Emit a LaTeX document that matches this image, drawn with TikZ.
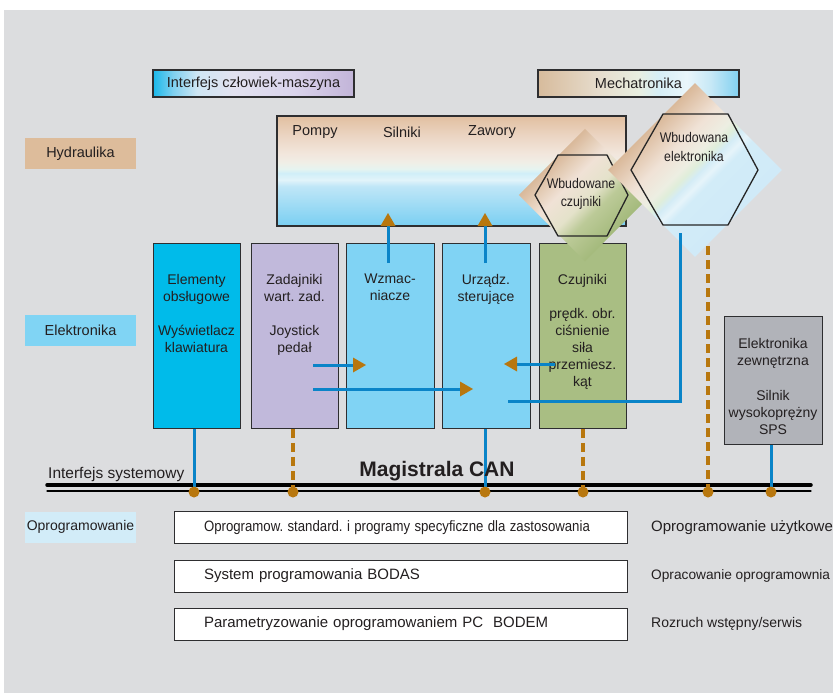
\documentclass[tikz,border=0pt]{standalone}
\usepackage{fontspec}
\setmainfont{Liberation Sans}
\usepackage{graphicx}
\usetikzlibrary{arrows.meta}
\frenchspacing
\definecolor{bg}{HTML}{DCDDDF}
\definecolor{txt}{HTML}{231F20}
\definecolor{edge}{HTML}{2E2E30}
\definecolor{brn}{HTML}{B8770E}
\definecolor{lblue}{HTML}{0A84C8}
\definecolor{ccyan}{HTML}{00BBEA}
\definecolor{clav}{HTML}{C1B9DB}
\definecolor{clb}{HTML}{80D3F4}
\definecolor{cgreen}{HTML}{A9BE83}
\definecolor{cgray}{HTML}{B1B3B9}
\definecolor{htan}{HTML}{DDBC9B}
\definecolor{elb}{HTML}{80D4F4}
\definecolor{opb}{HTML}{D2ECF8}
% hydraulic box
\definecolor{hA}{HTML}{E1BFA0}\definecolor{hB}{HTML}{EBD5C3}\definecolor{hC}{HTML}{F2E6DC}
\definecolor{hD}{HTML}{F0EEE6}\definecolor{hE}{HTML}{E6F4F0}\definecolor{hF}{HTML}{D0EEF8}
\definecolor{hG}{HTML}{E2F4FA}\definecolor{hH}{HTML}{BFE6F7}\definecolor{hI}{HTML}{7ACFF2}
\pgfdeclareverticalshading{hydsh}{100bp}{color(0bp)=(hI); color(25bp)=(hI); color(43bp)=(hH); color(46bp)=(hG); color(49bp)=(hF); color(51bp)=(hE); color(54bp)=(hD); color(58bp)=(hC); color(66bp)=(hB); color(75bp)=(hA); color(100bp)=(hA)}
% interface box
\definecolor{iA}{HTML}{1AB8EA}\definecolor{iB}{HTML}{7FD0F0}\definecolor{iC}{HTML}{CFE6F4}
\definecolor{iD}{HTML}{E2E2F0}\definecolor{iE}{HTML}{DAD4EC}\definecolor{iF}{HTML}{C2B4D8}
\pgfdeclarehorizontalshading{intsh}{100bp}{color(0bp)=(iA); color(25bp)=(iA); color(30bp)=(iB); color(36bp)=(iC); color(45bp)=(iD); color(60bp)=(iE); color(75bp)=(iF); color(100bp)=(iF)}
% mechatronika box
\definecolor{mA}{HTML}{D7BB9C}\definecolor{mB}{HTML}{E6DCCC}\definecolor{mC}{HTML}{E8EEE0}
\definecolor{mD}{HTML}{D6EEF6}\definecolor{mE}{HTML}{EAF6FB}\definecolor{mF}{HTML}{C6E8F6}\definecolor{mG}{HTML}{80D0F0}
\pgfdeclarehorizontalshading{mechsh}{100bp}{color(0bp)=(mA); color(25bp)=(mA); color(40bp)=(mB); color(50bp)=(mC); color(55bp)=(mD); color(62bp)=(mE); color(68bp)=(mF); color(75bp)=(mG); color(100bp)=(mG)}
% small diamond
\definecolor{sA}{HTML}{A4BA7C}\definecolor{sB}{HTML}{BCCA98}\definecolor{sC}{HTML}{E4E2CA}
\definecolor{sD}{HTML}{F0E2D6}\definecolor{sE}{HTML}{D9B99A}
\pgfdeclareverticalshading{sdiash}{100bp}{color(0bp)=(sA); color(25bp)=(sA); color(40bp)=(sB); color(48bp)=(sC); color(60bp)=(sD); color(75bp)=(sE); color(100bp)=(sE)}
% large diamond
\definecolor{lA}{HTML}{D0EAF8}\definecolor{lB}{HTML}{D2ECF8}\definecolor{lC}{HTML}{E6F4FA}
\definecolor{lD}{HTML}{D4ECF6}\definecolor{lE}{HTML}{E0EEDA}\definecolor{lF}{HTML}{EDEEE2}
\definecolor{lG}{HTML}{F0E2D6}\definecolor{lH}{HTML}{DAB99A}
\pgfdeclareverticalshading{ldiash}{100bp}{color(0bp)=(lA); color(25bp)=(lA); color(42bp)=(lB); color(45bp)=(lC); color(48bp)=(lD); color(51bp)=(lE); color(54bp)=(lF); color(62bp)=(lG); color(75bp)=(lH); color(100bp)=(lH)}

\tikzset{
  lab/.style={minimum width=111pt, minimum height=31pt, inner sep=0pt, text=txt, font=\fontsize{14.5}{17}\selectfont},
  topbox/.style={draw=edge, line width=1.1pt, minimum width=201pt, minimum height=27pt, inner sep=0pt, text=txt, font=\fontsize{14.5}{17}\selectfont},
  colbox/.style={draw=edge, line width=0.9pt, anchor=north west, minimum height=185pt, inner sep=0pt},
  coltext/.style={align=center, anchor=north, inner sep=0pt, text=txt, font=\fontsize{14}{17}\selectfont},
  hydtext/.style={inner sep=0pt, text=txt, font=\fontsize{14.5}{17}\selectfont},
  hextext/.style={align=center, inner sep=0pt, text=txt, font=\fontsize{14}{19}\selectfont},
  hexline/.style={draw=black!85, line width=1.3pt, line join=miter},
  bluel/.style={draw=lblue, line width=3pt},
  bluetip/.style={draw=lblue, line width=3pt, -{Triangle[length=13pt, width=15pt, color=brn, fill=brn, line width=0pt]}},
  brndash/.style={draw=brn, line width=3.5pt, dash pattern=on 9pt off 5pt},
  swbox/.style={draw=edge, fill=white, line width=0.9pt, minimum height=32pt, text width=393pt, inner xsep=30pt, inner ysep=0pt, align=left, text=txt, font=\fontsize{15}{18}\selectfont},
  swright/.style={anchor=west, inner sep=0pt, text=txt, font=\fontsize{14}{17}\selectfont},
}

\begin{document}
\begin{tikzpicture}[x=1pt, y=-1pt]
\useasboundingbox (0,0) rectangle (833,693);
\fill[white] (0,0) rectangle (833,693);
\fill[bg] (4,10) rectangle (833,693);

% left labels
\node[lab, fill=htan] (hydl) at (80.5,153.5) {Hydraulika};
\node[lab, fill=elb] (elel) at (80.5,330.5) {Elektronika};
\node[lab, fill=opb] (opl) at (80.5,527) {\fontsize{14}{17}\selectfont Oprogramowanie};

% top boxes
\node[topbox, shading=intsh] (hmi) at (253.5,83.5) {Interfejs człowiek-maszyna};
\node[topbox, shading=mechsh] (mech) at (638.5,83.5) {Mechatronika};

% hydraulic box
\node[draw=edge, line width=1.1pt, shading=hydsh, minimum width=349pt, minimum height=110pt, inner sep=0pt] (hyd) at (451.5,171) {};
\node[hydtext] (pompy) at (315,132) {Pompy};
\node[hydtext] (silniki) at (402,132) {Silniki};
\node[hydtext] (zawory) at (492,132) {Zawory};

% columns
\node[colbox, fill=ccyan, minimum width=87pt] (elem) at (153,243) {};
\node[colbox, fill=clav, minimum width=87pt] (zad) at (251,243) {};
\node[colbox, fill=clb, minimum width=88pt] (wzm) at (346,243) {};
\node[colbox, fill=clb, minimum width=88pt] (urz) at (442,243) {};
\node[colbox, fill=cgreen, minimum width=87pt] (czu) at (539,243) {};
\node[colbox, fill=cgray, minimum width=98pt, minimum height=128pt] (ext) at (724,316) {};

\node[coltext] (elemT) at (196.5,274) {Elementy\\obsługowe\\[17pt]Wyświetlacz\\klawiatura};
\node[coltext] (zadT) at (294.5,274) {Zadajniki\\wart. zad.\\[17pt]Joystick\\pedał};
\node[coltext] (wzmT) at (390,274) {Wzmac-\\niacze};
\node[coltext] (urzT) at (486,274) {Urządz.\\sterujące};
\node[coltext] (czuT) at (582.5,274) {Czujniki\\[17pt]prędk. obr.\\ciśnienie\\siła\\przemiesz.\\kąt};
\node[coltext] (extT) at (773,338) {Elektronika\\zewnętrzna\\[18pt]Silnik\\wysokoprężny\\SPS};

% up arrows into hydraulics
\coordinate (u1s) at (388,263); \coordinate (u1e) at (388,213);
\coordinate (u2s) at (485,263); \coordinate (u2e) at (485,213);
\draw[bluetip] (u1s) -- (u1e);
\draw[bluetip] (u2s) -- (u2e);

% small diamond + hexagon
\begin{scope}[transform canvas={rotate around={45:(585,195)}}]
  \shade[shading=sdiash] (538.3,148.3) rectangle (631.7,241.7);
\end{scope}
\draw[hexline] (558,155) -- (607,155) -- (628,195) -- (607,236) -- (558,236) -- (535,195) -- cycle;
\node[hextext] (sdiaT) at (581,194) {\scalebox{0.88}[1]{Wbudowane}\\[-1pt]\scalebox{0.88}[1]{czujniki}};

% large diamond + hexagon
\begin{scope}[transform canvas={rotate around={45:(695,170)}}]
  \shade[shading=ldiash] (633.5,108.5) rectangle (756.5,231.5);
\end{scope}
\draw[hexline] (663,114) -- (728,114) -- (758,170) -- (728,225) -- (663,225) -- (631,170) -- cycle;
\node[hextext] (ldiaT) at (694,147) {\scalebox{0.88}[1]{Wbudowana}\\\scalebox{0.88}[1]{elektronika}};

% internal arrows
\coordinate (a1s) at (313,365); \coordinate (a1e) at (366,365);
\coordinate (a2s) at (313,389); \coordinate (a2e) at (473,389);
\coordinate (a3s) at (555,364); \coordinate (a3e) at (504,364);
\draw[bluetip] (a1s) -- (a1e);
\draw[bluetip] (a2s) -- (a2e);
\draw[bluetip] (a3s) -- (a3e);
\coordinate (eS) at (680,233); \coordinate (eE) at (508,401);
\draw[bluel] (eS) |- (eE);

% bus
\coordinate (busL) at (47,485); \coordinate (busR) at (811,485);
\draw[line width=3.5pt, line cap=round] (busL) -- (busR);
\draw[line width=1.2pt, line cap=round] (47,491) -- (811,491);

\coordinate (d1) at (194,492);
\coordinate (d2) at (293,492);
\coordinate (d3) at (485,492);
\coordinate (d4) at (583,492);
\coordinate (d5) at (708,492);
\coordinate (d6) at (771,492);
\coordinate (diaB) at (708,246);

\draw[bluel] (elem.south -| d1) -- (d1);
\draw[brndash] (zad.south -| d2) -- (d2);
\draw[bluel] (urz.south -| d3) -- (d3);
\draw[brndash] (czu.south -| d4) -- (d4);
\draw[brndash] (diaB) -- (d5);
\draw[bluel] (ext.south -| d6) -- (d6);
\foreach \d in {d1,d2,d3,d4,d5,d6} \fill[brn] (\d) circle (5.5pt);

\node[anchor=base west, inner sep=0pt, text=txt, font=\fontsize{15.5}{18}\selectfont] (sysif) at (48,478) {Interfejs systemowy};
\node[anchor=base, inner sep=0pt, text=txt, font=\fontsize{21}{24}\bfseries] (can) at (437,476) {Magistrala CAN};

% software
\node[swbox] (sw1) at (400.5,527.5) {\scalebox{0.88}[1]{Oprogramow. standard. i programy specyficzne dla zastosowania}};
\node[swbox] (sw2) at (400.5,576) {System programowania BODAS};
\node[swbox] (sw3) at (400.5,624) {Parametryzowanie oprogramowaniem PC\ \ BODEM};
\node[swright, font=\fontsize{15}{17}\selectfont] (r1) at (651,527.5) {Oprogramowanie użytkowe};
\node[swright, font=\fontsize{13.7}{17}\selectfont] (r2) at (651,576) {Opracowanie oprogramownia};
\node[swright] (r3) at (651,624) {Rozruch wstępny/serwis};
\end{tikzpicture}
\end{document}
